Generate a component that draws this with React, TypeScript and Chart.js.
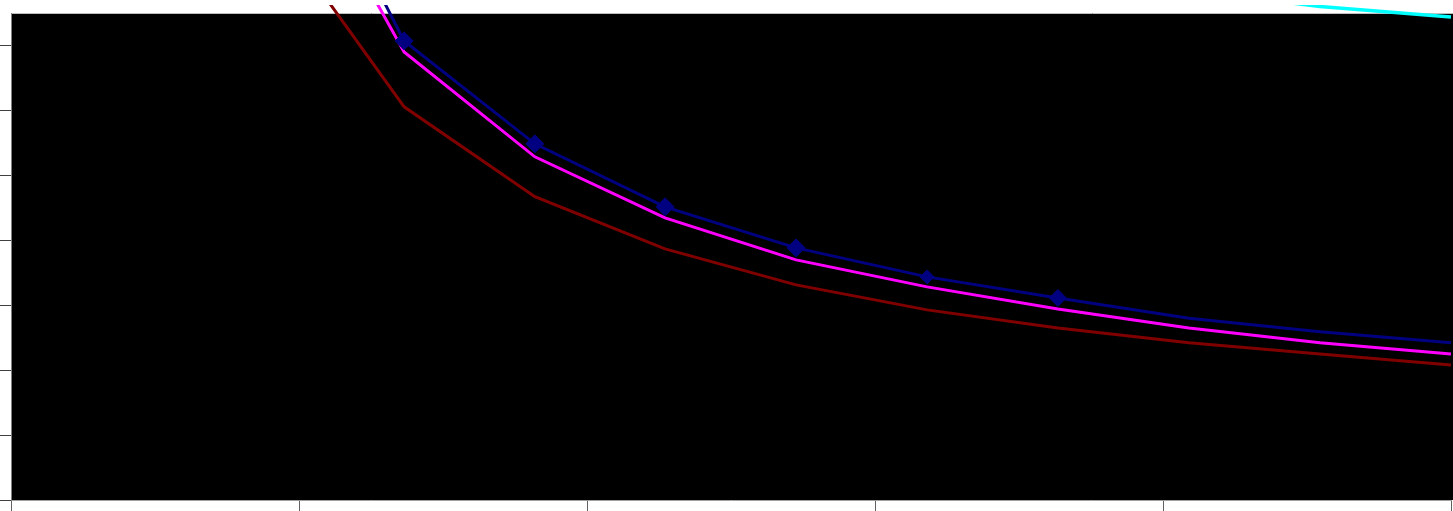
import { useEffect, useRef } from "react";
import { Chart, registerables } from "chart.js";

Chart.register(...registerables);

// x positions of the samples (linear axis 0..5)
const xValues = [0.91, 1.365, 1.819, 2.271, 2.726, 3.181, 3.635, 4.09, 4.545, 5.0];
// series
const navySeries = [11.0, 7.07, 5.485, 4.515, 3.883, 3.436, 3.112, 2.8, 2.59, 2.42];
const magentaSeries = [10.52, 6.9, 5.285, 4.345, 3.698, 3.282, 2.943, 2.65, 2.42, 2.25];
const maroonSeries = [8.86, 6.055, 4.67, 3.867, 3.313, 2.928, 2.65, 2.42, 2.25, 2.08];
const cyanX = [4.09, 4.545, 5.0];
const cyanSeries = [7.85, 7.6, 7.44];
const navyMarkers = [0, 9, 9, 9, 9, 7, 8.5, 0, 0, 0];
const xTicks = [0, 1, 2, 3, 4, 5];
const yTicks = [0, 1, 2, 3, 4, 5, 6, 7];

const toPoints = (xs: number[], ys: number[]) => xs.map((x, i) => ({ x, y: ys[i] }));

const plotFrame = {
  id: "plotFrame",
  beforeDraw(chart: any) {
    const { ctx, chartArea, width } = chart;
    const { left, top, bottom } = chartArea;
    ctx.save();
    ctx.fillStyle = "#000000";
    ctx.fillRect(left, top, width - left, bottom - top);
    ctx.strokeStyle = "#c0c0c0";
    ctx.lineWidth = 1;
    ctx.beginPath();
    ctx.moveTo(left, top + 0.5);
    ctx.lineTo(width, top + 0.5);
    ctx.stroke();
    ctx.restore();
  },
};

export default function App() {
  const ref = useRef<HTMLCanvasElement | null>(null);

  useEffect(() => {
    document.body.style.margin = "0";
    if (!ref.current) return;
    const clip = { left: 20, top: 8, right: 5, bottom: 0 };
    const chart = new Chart(ref.current, {
      type: "line",
      data: {
        datasets: [
          {
            label: "navy",
            data: toPoints(xValues, navySeries),
            borderColor: "#000080",
            backgroundColor: "#000080",
            borderWidth: 3,
            pointStyle: "rectRot",
            pointRadius: navyMarkers,
            pointBorderWidth: 1,
            pointBackgroundColor: "#000080",
            pointBorderColor: "#000080",
            tension: 0,
            clip,
          },
          {
            label: "magenta",
            data: toPoints(xValues, magentaSeries),
            borderColor: "#ff00ff",
            borderWidth: 3,
            pointRadius: 0,
            tension: 0,
            clip,
          },
          {
            label: "maroon",
            data: toPoints(xValues, maroonSeries),
            borderColor: "#800000",
            borderWidth: 3,
            pointRadius: 0,
            tension: 0,
            clip,
          },
          {
            label: "cyan",
            data: toPoints(cyanX, cyanSeries),
            borderColor: "#00ffff",
            borderWidth: 3.5,
            pointRadius: 0,
            tension: 0,
            clip,
          },
        ],
      },
      options: {
        animation: false,
        responsive: true,
        maintainAspectRatio: false,
        layout: { padding: { top: 13, right: 2, left: 0, bottom: 0 } },
        plugins: { legend: { display: false }, tooltip: { enabled: false } },
        events: [],
        scales: {
          x: {
            type: "linear",
            min: 0,
            max: 5,
            afterBuildTicks: (scale: any) => {
              scale.ticks = xTicks.map((v) => ({ value: v }));
            },
            ticks: { display: false },
            grid: {
              drawOnChartArea: false,
              drawTicks: true,
              tickLength: 11,
              tickColor: "#606060",
              tickWidth: 1,
            },
            border: { color: "#a0a0a0", width: 1 },
          },
          y: {
            type: "linear",
            min: 0,
            max: 7.5,
            afterBuildTicks: (scale: any) => {
              scale.ticks = yTicks.map((v) => ({ value: v }));
            },
            ticks: { display: false },
            grid: {
              drawOnChartArea: false,
              drawTicks: true,
              tickLength: 11,
              tickColor: "#404040",
              tickWidth: 1,
            },
            border: { color: "#808080", width: 1 },
          },
        },
      },
      plugins: [plotFrame],
    });
    return () => chart.destroy();
  }, []);

  return (
    <div style={{ position: "fixed", left: 0, top: 0, width: 1453, height: 511, background: "#ffffff" }}>
      <canvas ref={ref} />
    </div>
  );
}
